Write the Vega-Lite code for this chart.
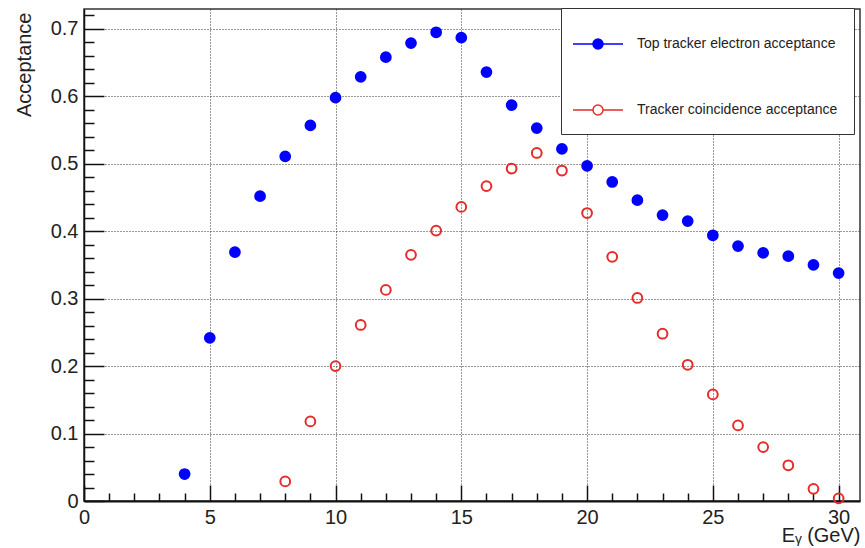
{
  "$schema": "https://vega.github.io/schema/vega-lite/v6.json",
  "autosize": "none",
  "width": 776,
  "height": 492,
  "padding": {"left": 84, "top": 9, "right": 5, "bottom": 47},
  "background": "white",
  "config": {
    "view": {"stroke": "#333", "strokeWidth": 1.5},
    "font": "Liberation Sans"
  },
  "data": {
    "values": [
      {"E": 4, "acc": 0.04, "series": "Top tracker electron acceptance"},
      {"E": 5, "acc": 0.242, "series": "Top tracker electron acceptance"},
      {"E": 6, "acc": 0.369, "series": "Top tracker electron acceptance"},
      {"E": 7, "acc": 0.452, "series": "Top tracker electron acceptance"},
      {"E": 8, "acc": 0.511, "series": "Top tracker electron acceptance"},
      {"E": 9, "acc": 0.557, "series": "Top tracker electron acceptance"},
      {"E": 10, "acc": 0.598, "series": "Top tracker electron acceptance"},
      {"E": 11, "acc": 0.629, "series": "Top tracker electron acceptance"},
      {"E": 12, "acc": 0.658, "series": "Top tracker electron acceptance"},
      {"E": 13, "acc": 0.679, "series": "Top tracker electron acceptance"},
      {"E": 14, "acc": 0.695, "series": "Top tracker electron acceptance"},
      {"E": 15, "acc": 0.687, "series": "Top tracker electron acceptance"},
      {"E": 16, "acc": 0.636, "series": "Top tracker electron acceptance"},
      {"E": 17, "acc": 0.587, "series": "Top tracker electron acceptance"},
      {"E": 18, "acc": 0.553, "series": "Top tracker electron acceptance"},
      {"E": 19, "acc": 0.522, "series": "Top tracker electron acceptance"},
      {"E": 20, "acc": 0.497, "series": "Top tracker electron acceptance"},
      {"E": 21, "acc": 0.473, "series": "Top tracker electron acceptance"},
      {"E": 22, "acc": 0.446, "series": "Top tracker electron acceptance"},
      {"E": 23, "acc": 0.424, "series": "Top tracker electron acceptance"},
      {"E": 24, "acc": 0.415, "series": "Top tracker electron acceptance"},
      {"E": 25, "acc": 0.394, "series": "Top tracker electron acceptance"},
      {"E": 26, "acc": 0.378, "series": "Top tracker electron acceptance"},
      {"E": 27, "acc": 0.368, "series": "Top tracker electron acceptance"},
      {"E": 28, "acc": 0.363, "series": "Top tracker electron acceptance"},
      {"E": 29, "acc": 0.35, "series": "Top tracker electron acceptance"},
      {"E": 30, "acc": 0.338, "series": "Top tracker electron acceptance"},
      {"E": 8, "acc": 0.029, "series": "Tracker coincidence acceptance"},
      {"E": 9, "acc": 0.118, "series": "Tracker coincidence acceptance"},
      {"E": 10, "acc": 0.2, "series": "Tracker coincidence acceptance"},
      {"E": 11, "acc": 0.261, "series": "Tracker coincidence acceptance"},
      {"E": 12, "acc": 0.313, "series": "Tracker coincidence acceptance"},
      {"E": 13, "acc": 0.365, "series": "Tracker coincidence acceptance"},
      {"E": 14, "acc": 0.401, "series": "Tracker coincidence acceptance"},
      {"E": 15, "acc": 0.436, "series": "Tracker coincidence acceptance"},
      {"E": 16, "acc": 0.467, "series": "Tracker coincidence acceptance"},
      {"E": 17, "acc": 0.493, "series": "Tracker coincidence acceptance"},
      {"E": 18, "acc": 0.516, "series": "Tracker coincidence acceptance"},
      {"E": 19, "acc": 0.49, "series": "Tracker coincidence acceptance"},
      {"E": 20, "acc": 0.427, "series": "Tracker coincidence acceptance"},
      {"E": 21, "acc": 0.362, "series": "Tracker coincidence acceptance"},
      {"E": 22, "acc": 0.301, "series": "Tracker coincidence acceptance"},
      {"E": 23, "acc": 0.248, "series": "Tracker coincidence acceptance"},
      {"E": 24, "acc": 0.202, "series": "Tracker coincidence acceptance"},
      {"E": 25, "acc": 0.158, "series": "Tracker coincidence acceptance"},
      {"E": 26, "acc": 0.112, "series": "Tracker coincidence acceptance"},
      {"E": 27, "acc": 0.08, "series": "Tracker coincidence acceptance"},
      {"E": 28, "acc": 0.053, "series": "Tracker coincidence acceptance"},
      {"E": 29, "acc": 0.018, "series": "Tracker coincidence acceptance"},
      {"E": 30, "acc": 0.004, "series": "Tracker coincidence acceptance"}
    ]
  },
  "mark": {"type": "point", "shape": "circle", "size": 95, "strokeWidth": 2, "opacity": 1},
  "encoding": {
    "x": {
      "field": "E",
      "type": "quantitative",
      "scale": {"domain": [0, 30.85], "nice": false, "zero": false},
      "axis": {
        "title": "Eᵧ (GeV)",
        "titleFont": "Liberation Sans",
        "titleFontSize": 20,
        "titleFontWeight": "normal",
        "titleColor": "#222",
        "titleAnchor": "end",
        "titleAlign": "right",
        "titleBaseline": "alphabetic",
        "titleX": 776,
        "titleY": 40,
        "values": [0,1,2,3,4,5,6,7,8,9,10,11,12,13,14,15,16,17,18,19,20,21,22,23,24,25,26,27,28,29,30],
        "labelExpr": "datum.value % 5 === 0 ? datum.label : ''",
        "labelFontSize": 20,
        "labelColor": "#222",
        "labelOverlap": false,
        "labelFlush": false,
        "labelPadding": 22,
        "tickColor": "#111",
        "tickWidth": 1.5,
        "tickSize": {"condition": {"test": "datum.value % 5 === 0", "value": -16}, "value": -8},
        "domainColor": "#111",
        "domainWidth": 2,
        "grid": true,
        "gridColor": "#333",
        "gridDash": [1, 2],
        "gridWidth": 1,
        "gridOpacity": {"condition": {"test": "datum.value % 5 === 0 && datum.value > 0", "value": 1}, "value": 0}
      }
    },
    "y": {
      "field": "acc",
      "type": "quantitative",
      "scale": {"domain": [0, 0.7295], "nice": false, "zero": false},
      "axis": {
        "title": "Acceptance",
        "titleFont": "Liberation Sans",
        "titleFontSize": 20,
        "titleFontWeight": "normal",
        "titleColor": "#222",
        "titleAngle": -90,
        "titleAnchor": "end",
        "titleAlign": "right",
        "titleBaseline": "middle",
        "titleX": -60,
        "titleY": 3,
        "values": [0,0.02,0.04,0.06,0.08,0.1,0.12,0.14,0.16,0.18,0.2,0.22,0.24,0.26,0.28,0.3,0.32,0.34,0.36,0.38,0.4,0.42,0.44,0.46,0.48,0.5,0.52,0.54,0.56,0.58,0.6,0.62,0.64,0.66,0.68,0.7,0.72],
        "format": ".2~f",
        "labelExpr": "abs(datum.value*10 - round(datum.value*10)) < 0.000001 ? datum.label : ''",
        "labelFontSize": 20,
        "labelColor": "#222",
        "labelOverlap": false,
        "labelFlush": false,
        "labelPadding": 26,
        "tickColor": "#111",
        "tickWidth": 1.5,
        "tickSize": {"condition": {"test": "abs(datum.value*10 - round(datum.value*10)) < 0.000001", "value": -20}, "value": -10},
        "domainColor": "#111",
        "domainWidth": 1.5,
        "grid": true,
        "gridColor": "#333",
        "gridDash": [1, 2],
        "gridWidth": 1,
        "gridOpacity": {"condition": {"test": "abs(datum.value*10 - round(datum.value*10)) < 0.000001 && datum.value > 0", "value": 1}, "value": 0}
      }
    },
    "stroke": {
      "field": "series",
      "type": "nominal",
      "scale": {"domain": ["Top tracker electron acceptance", "Tracker coincidence acceptance"], "range": ["#0000ff", "#e52b2b"]},
      "legend": {
        "title": null,
        "orient": "none",
        "legendX": 477,
        "legendY": -1,
        "fillColor": "white",
        "strokeColor": "#333",
        "padding": 16,
        "symbolOffset": 1,
        "labelOffset": 19,
        "rowPadding": 38,
        "labelFontSize": 14,
        "labelFont": "Liberation Sans",
        "labelColor": "#222",
        "labelLimit": 400,
        "symbolType": "M-1.316,0H-0.263M0.263,0H1.316M-0.263,0A0.263,0.263 0 1,1 0.263,0A0.263,0.263 0 1,1 -0.263,0Z",
        "symbolSize": 1444,
        "symbolStrokeWidth": 1.5
      }
    },
    "fill": {
      "field": "series",
      "type": "nominal",
      "scale": {"domain": ["Top tracker electron acceptance", "Tracker coincidence acceptance"], "range": ["#0000ff", "transparent"]},
      "legend": {
        "title": null,
        "orient": "none",
        "legendX": 477,
        "legendY": -1,
        "fillColor": "white",
        "strokeColor": "#333",
        "padding": 16,
        "symbolOffset": 1,
        "labelOffset": 19,
        "rowPadding": 38,
        "labelFontSize": 14,
        "labelFont": "Liberation Sans",
        "labelColor": "#222",
        "labelLimit": 400,
        "symbolType": "M-1.316,0H-0.263M0.263,0H1.316M-0.263,0A0.263,0.263 0 1,1 0.263,0A0.263,0.263 0 1,1 -0.263,0Z",
        "symbolSize": 1444,
        "symbolStrokeWidth": 1.5
      }
    }
  }
}
